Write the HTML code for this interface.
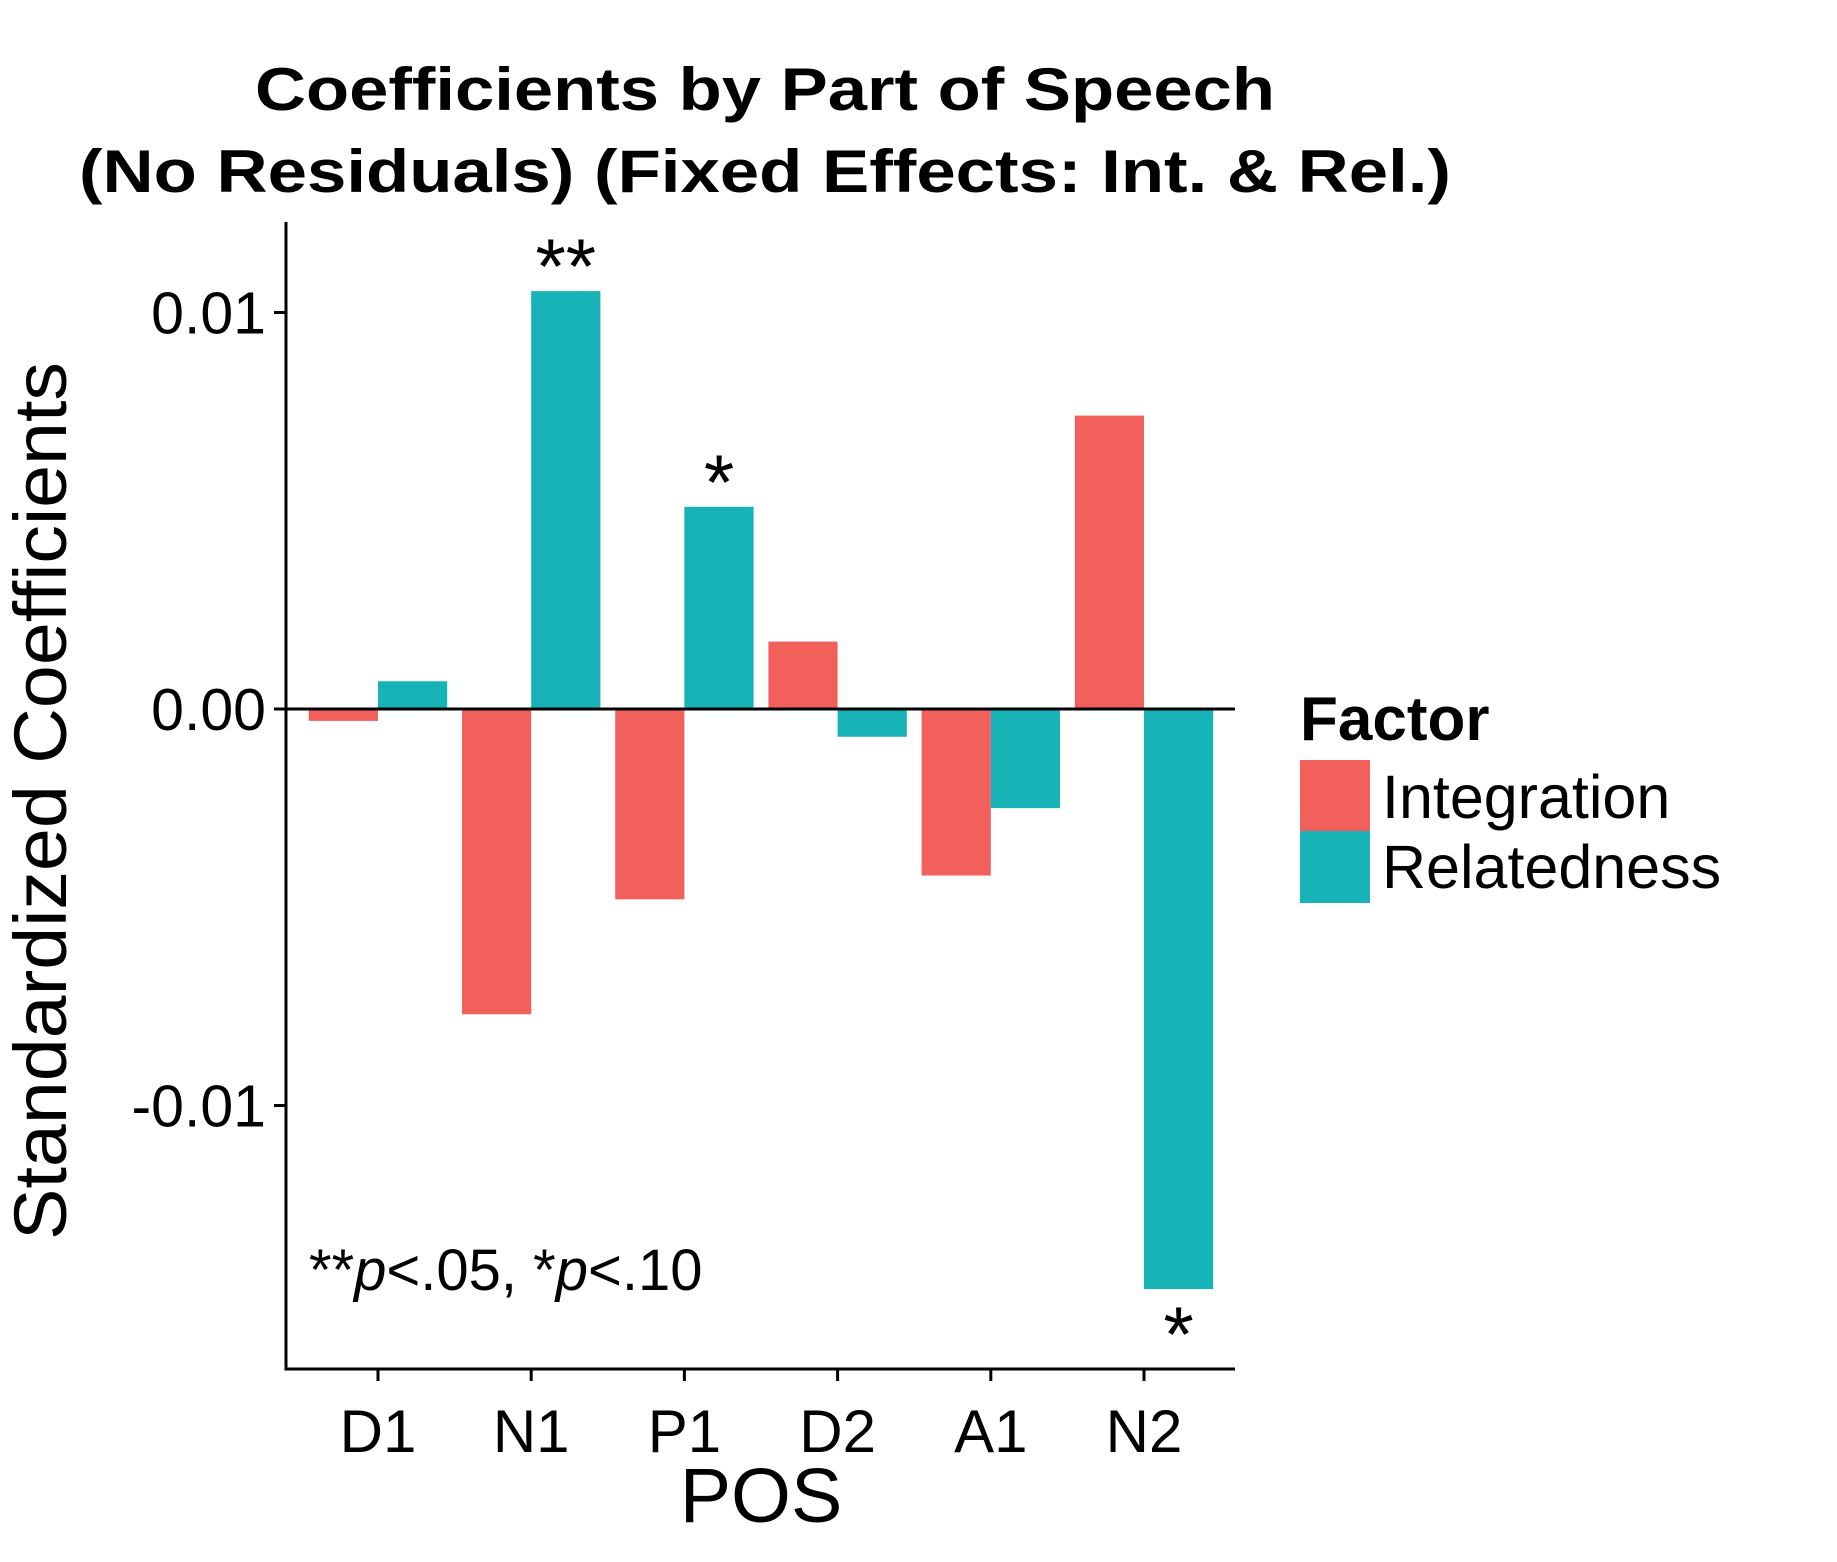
<!DOCTYPE html>
<html><head><meta charset="utf-8"><style>
html,body{margin:0;padding:0;background:#fff}
svg{display:block}
text{font-family:"Liberation Sans",Arial,sans-serif;fill:#000}
</style></head><body>
<svg id="chart" width="1837" height="1562" viewBox="0 0 1837 1562">
<text x="765" y="110" font-size="60" font-weight="bold" text-anchor="middle" textLength="1020" lengthAdjust="spacingAndGlyphs">Coefficients by Part of Speech</text>
<text x="765" y="192" font-size="60" font-weight="bold" text-anchor="middle" textLength="1372" lengthAdjust="spacingAndGlyphs">(No Residuals) (Fixed Effects: Int. &amp; Rel.)</text>
<g id="bars"></g>
<g id="axes"></g>
<text transform="translate(66,801) rotate(-90)" font-size="74" text-anchor="middle" textLength="878" lengthAdjust="spacingAndGlyphs">Standardized Coefficients</text>
<text x="761" y="1522" font-size="77" text-anchor="middle">POS</text>
<text x="309" y="1290" font-size="58">**<tspan font-style="italic">p</tspan>&lt;.05, *<tspan font-style="italic">p</tspan>&lt;.10</text>
<g>
<text x="1300" y="740" font-size="62" font-weight="bold">Factor</text>
<rect x="1300" y="760" width="70" height="71" fill="#F2605B"/>
<rect x="1300" y="831" width="70" height="72" fill="#18B3B6"/>
<text x="1382" y="818" font-size="61">Integration</text>
<text x="1382" y="888" font-size="61">Relatedness</text>
</g>
</svg>
<script>
const categories = ["D1","N1","P1","D2","A1","N2"];
const integration = [-0.0003,-0.0077,-0.0048,0.0017,-0.0042,0.0074];
const relatedness = [0.0007,0.01054,0.0051,-0.0007,-0.0025,-0.01463];
const relStars = ["","**","*","","","*"];
const yTicks = [0.01,0,-0.01];
const yTickLabels = ["0.01","0.00","-0.01"];

const NS="http://www.w3.org/2000/svg";
const xLeft=286, xRight=1235, yTop=222, yBottom=1369;
const x0=378, step=153.2, barW=69.2;
function xPos(i){return x0+i*step;}
function yPos(v){return 709-v*39650;}
function mk(tag,attrs,parent){const e=document.createElementNS(NS,tag);for(const k in attrs)e.setAttribute(k,attrs[k]);parent.appendChild(e);return e;}
const bars=document.getElementById('bars'), axes=document.getElementById('axes');
categories.forEach((c,i)=>{
  const cx=xPos(i);
  [[integration[i],cx-barW,'#F2605B','integration'],[relatedness[i],cx,'#18B3B6','relatedness']].forEach(([v,x,col,nm])=>{
    const y1=yPos(v),y0=yPos(0);
    const r=mk('rect',{x:x,y:Math.min(y0,y1),width:barW,height:Math.abs(y1-y0),fill:col},bars);
    
    
  });
  if(relStars[i]){
    const v=relatedness[i];
    const ty=v>=0?yPos(v)+2:yPos(v)+72;
    const t=mk('text',{x:cx+barW/2,y:ty,'font-size':78,'text-anchor':'middle'},bars);
    t.textContent=relStars[i];
    
    
  }
  const tk=mk('line',{x1:cx,x2:cx,y1:yBottom,y2:yBottom+12,stroke:'#000','stroke-width':3},axes);
  
  
  const lb=mk('text',{x:cx,y:yBottom+83,'font-size':60,'text-anchor':'middle'},axes);
  lb.textContent=c;
  
  
});
const zl=mk('line',{x1:xLeft,x2:xRight,y1:yPos(0),y2:yPos(0),stroke:'#000','stroke-width':3},axes);


const ya=mk('line',{x1:xLeft,x2:xLeft,y1:yTop,y2:yBottom+1.5,stroke:'#000','stroke-width':3},axes);


const xa=mk('line',{x1:xLeft-1.5,x2:xRight,y1:yBottom,y2:yBottom,stroke:'#000','stroke-width':3},axes);


yTicks.forEach((v,i)=>{
  const y=yPos(v);
  const t=mk('line',{x1:xLeft-12,x2:xLeft,y1:y,y2:y,stroke:'#000','stroke-width':3},axes);
  
  
  const l=mk('text',{x:xLeft-20,y:y+21,'font-size':59,'text-anchor':'end'},axes);
  l.textContent=yTickLabels[i];
  
  
});
</script>
</body></html>
